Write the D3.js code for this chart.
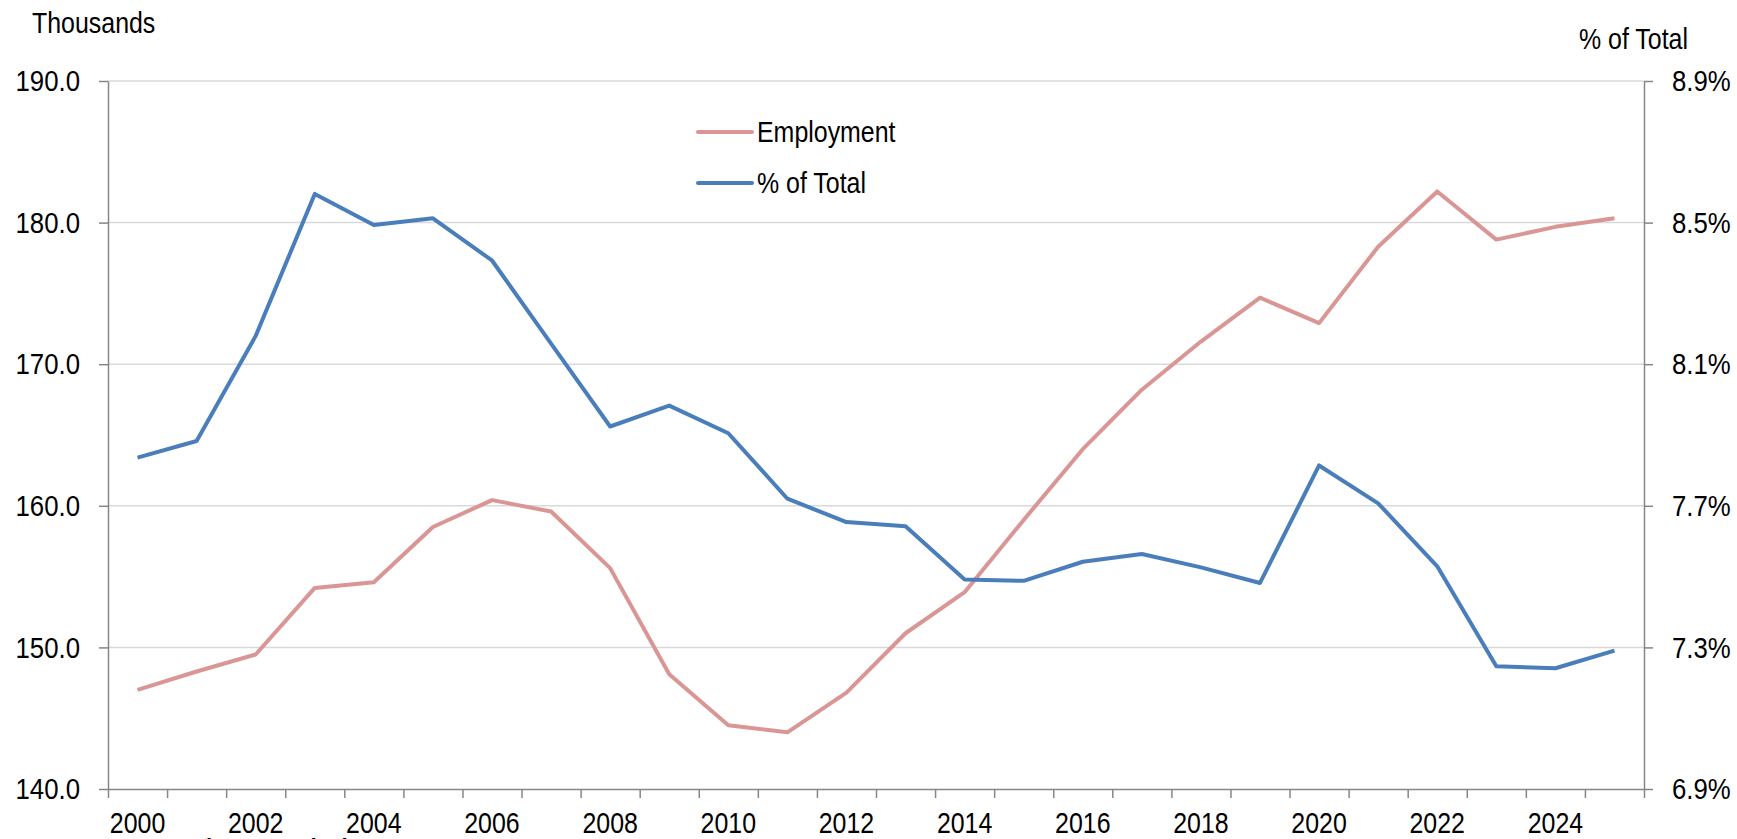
<!DOCTYPE html>
<html>
<head>
<meta charset="utf-8">
<script src="https://cdn.jsdelivr.net/npm/d3@7"></script>
<style>
  body { margin: 0; background: #fff; }
  svg { display: block; font-family: "Liberation Sans", Arial, sans-serif; }
</style>
</head>
<body>
<svg id="chart" width="1737" height="839"></svg>
<script>
// chart data
var years = d3.range(2000, 2026);
var employment = [147.0, 148.3, 149.5, 154.2, 154.6, 158.5, 160.4, 159.6, 155.6, 148.1,
                  144.5, 144.0, 146.8, 151.0, 153.9, 159.0, 164.0, 168.2, 171.6, 174.7,
                  172.9, 178.3, 182.2, 178.8, 179.7, 180.3];
var pctTotal = [7.836, 7.883, 8.180, 8.581, 8.493, 8.512, 8.393, 8.158, 7.924, 7.983,
                7.905, 7.720, 7.654, 7.642, 7.492, 7.488, 7.542, 7.564, 7.526, 7.482,
                7.814, 7.707, 7.529, 7.247, 7.241, 7.291];
var leftTicks = [140, 150, 160, 170, 180, 190];
var rightTicks = [6.9, 7.3, 7.7, 8.1, 8.5, 8.9];
var yearLabels = d3.range(2000, 2026, 2);

var svg = d3.select("#chart");
var plotL = 108, plotR = 1644, plotT = 81, plotB = 789;
var sx = 0.86; // text in the original is a bit condensed
var axisGrey = "#868686", gridGrey = "#d9d9d9";
var pink = "#d99694", blue = "#4a7ebb";

var x = d3.scaleLinear().domain([1999.5, 2025.5]).range([plotL, plotR]);
var yL = d3.scaleLinear().domain([140, 190]).range([plotB, plotT]);
var yR = d3.scaleLinear().domain([6.9, 8.9]).range([plotB, plotT]);

function squeeze(sel, xpos) {
  sel.attr("x", xpos / sx).attr("transform", "scale(" + sx + ",1)");
}

// gridlines
svg.append("g").selectAll("line")
  .data(leftTicks.slice(1))
  .join("line")
    .attr("x1", plotL).attr("x2", plotR)
    .attr("y1", d => yL(d)).attr("y2", d => yL(d))
    .attr("stroke", gridGrey).attr("stroke-width", 1.5);

// left axis
var gl = svg.append("g").attr("transform", "translate(" + plotL + ",0)")
  .call(d3.axisLeft(yL).tickValues(leftTicks).tickSize(9).tickSizeOuter(0)
    .tickFormat(d3.format(".1f")));
gl.selectAll("text").style("font-size", "30px").attr("fill", "#000")
  .call(squeeze, -28);

// right axis
var gr = svg.append("g").attr("transform", "translate(" + plotR + ",0)")
  .call(d3.axisRight(yR).tickValues(rightTicks).tickSize(9).tickSizeOuter(0)
    .tickFormat(d => d.toFixed(1) + "%"));
gr.selectAll("text").style("font-size", "30px").attr("fill", "#000")
  .call(squeeze, 28);

// bottom axis, ticks between the years
var gb = svg.append("g").attr("transform", "translate(0," + plotB + ")")
  .call(d3.axisBottom(x).tickValues(d3.range(1999.5, 2026, 1)).tickSize(9)
    .tickSizeOuter(0).tickFormat(""));

svg.selectAll(".domain, .tick line")
  .attr("stroke", axisGrey).attr("stroke-width", 1.5);
svg.selectAll(".domain").attr("fill", "none");

svg.append("g").selectAll("text")
  .data(yearLabels)
  .join("text")
    .attr("y", 833)
    .attr("text-anchor", "middle")
    .style("font-size", "29px")
    .text(d => d)
    .each(function(d) { d3.select(this).call(squeeze, x(d)); });

// axis titles
svg.append("text").attr("y", 33).style("font-size", "29px")
  .text("Thousands").call(squeeze, 32);
svg.append("text").attr("y", 49).style("font-size", "29px")
  .text("% of Total").call(squeeze, 1579);

// source line, mostly cut off at the bottom edge
svg.append("text").attr("y", 857).style("font-size", "26px").style("font-weight", "bold")
  .text("Source: BLS and NCA analysis").call(squeeze, 32);

// series
var lineL = d3.line().x((d, i) => x(years[i])).y(d => yL(d));
var lineR = d3.line().x((d, i) => x(years[i])).y(d => yR(d));

svg.append("path").datum(employment)
  .attr("d", lineL).attr("fill", "none")
  .attr("stroke", pink).attr("stroke-width", 4).attr("stroke-linejoin", "round");
svg.append("path").datum(pctTotal)
  .attr("d", lineR).attr("fill", "none")
  .attr("stroke", blue).attr("stroke-width", 4).attr("stroke-linejoin", "round");

// legend
var legend = [
  { name: "Employment", color: pink },
  { name: "% of Total", color: blue }
];
var lg = svg.append("g").selectAll("g")
  .data(legend)
  .join("g")
    .attr("transform", (d, i) => "translate(698," + (132 + i * 51) + ")");
lg.append("line")
  .attr("x1", 0).attr("x2", 54)
  .attr("stroke", d => d.color).attr("stroke-width", 4).attr("stroke-linecap", "round");
lg.append("text")
  .attr("dy", "0.35em").style("font-size", "29px")
  .text(d => d.name).call(squeeze, 59);
</script>
</body>
</html>
